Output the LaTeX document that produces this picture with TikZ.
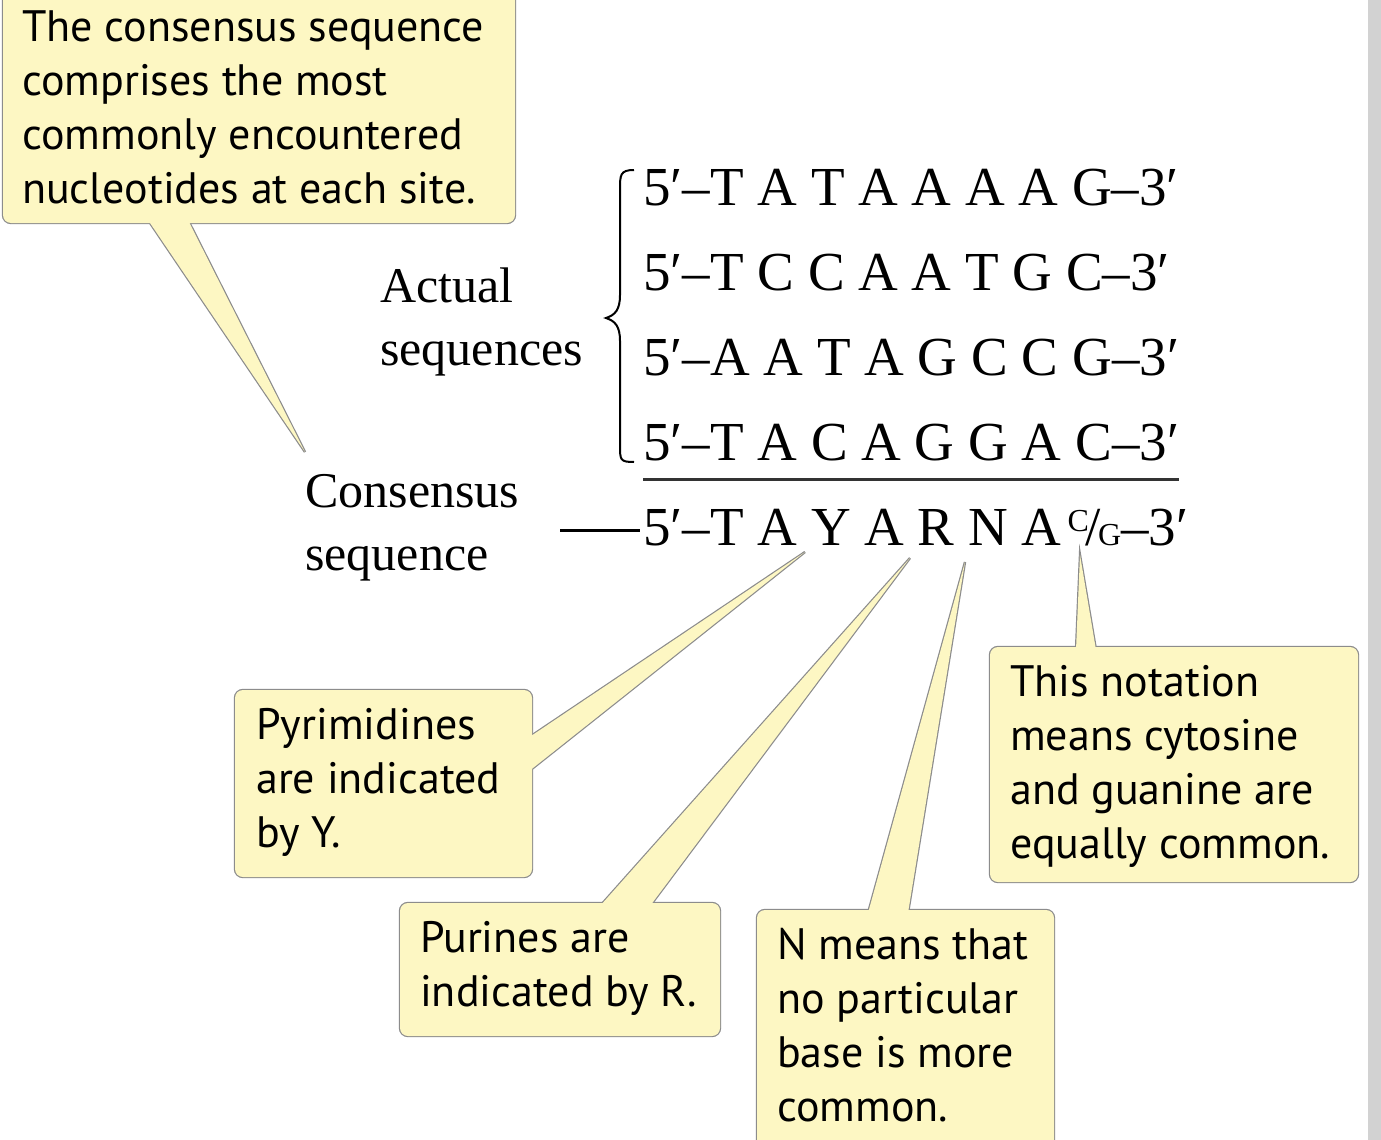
\documentclass[tikz,border=0pt]{standalone}
\usepackage{fontspec}
\setmainfont{Liberation Serif}
\newfontfamily\calfont{PT Sans}
\begin{document}
\begin{tikzpicture}[x=1pt,y=-1pt,
  calltext/.style={anchor=north west,inner sep=0pt,font=\calfont\fontsize{44}{54}\selectfont,align=left},
  seqtext/.style={anchor=base west,inner sep=0pt,font=\fontsize{55}{60}\selectfont},
  labtext/.style={anchor=north west,inner sep=0pt,font=\fontsize{50}{63}\selectfont,align=left}]
\definecolor{cfill}{HTML}{FDF7C3}
\definecolor{cline}{HTML}{8C8C8C}
\useasboundingbox (0,0) rectangle (1381,1140);
\fill[white] (0,0) rectangle (1381,1140);
\fill[gray!35] (1368,0) rectangle (1381,1140);
\foreach \mode in {1,2}{
  \ifnum\mode=1 \tikzset{cs/.style={draw=cline,line width=2.4pt,fill=cfill,rounded corners=8pt}}
  \else \tikzset{cs/.style={fill=cfill,rounded corners=8pt}} \fi
  \path[cs] (3,-10) rectangle (515,223);
  \path[cs,rounded corners=0pt] (148,220) -- (305,452) -- (188,220) -- cycle;
  \path[cs] (235,690) rectangle (532,877);
  \path[cs,rounded corners=0pt] (528,738) -- (805,552) -- (528,772) -- cycle;
  \path[cs] (400,903) rectangle (720,1036);
  \path[cs,rounded corners=0pt] (600,906) -- (910,558) -- (650,906) -- cycle;
  \path[cs] (757,910) rectangle (1054,1160);
  \path[cs,rounded corners=0pt] (868,913) -- (965,562) -- (908,913) -- cycle;
  \path[cs] (990,647) rectangle (1358,882);
  \path[cs,rounded corners=0pt] (1076,650) -- (1080,555) -- (1096,650) -- cycle;
}
\node[calltext] (c1) at (22,10) {The consensus sequence\\comprises the most\\commonly encountered\\nucleotides at each site.};
\node[calltext] (c2) at (256,708) {Pyrimidines\\are indicated\\by Y.};
\node[calltext] (c3) at (420,921) {Purines are\\indicated by R.};
\node[calltext] (c4) at (777,928) {N means that\\no particular\\base is more\\common.};
\node[calltext] (c5) at (1010,665) {This notation\\means cytosine\\and guanine are\\equally common.};
% labels
\node[labtext] (act) at (380,268) {Actual\\sequences};
\node[labtext] (cons) at (305,474) {Consensus\\sequence};
% brace
\draw[line width=2pt] (634,170) .. controls (620,170) and (620,175) .. (620,190) -- (620,295) .. controls (620,310) and (615,315) .. (606,318)
  .. controls (615,321) and (620,326) .. (620,341) -- (620,445) .. controls (620,460) and (620,462) .. (634,462);
% sequences
\node[seqtext] (s1) at (643,205) {5′–T A T A A A A G–3′};
\node[seqtext] (s2) at (643,290) {5′–T C C A A T G C–3′};
\node[seqtext] (s3) at (643,375) {5′–A A T A G C C G–3′};
\node[seqtext] (s4) at (643,460) {5′–T A C A G G A C–3′};
\coordinate (l1) at (643,479); \coordinate (l2) at (1179,479);
\draw[line width=3pt,black!80] (l1) -- (l2);
\node[seqtext] (s5) at (643,545) {5′–T A Y A R N A\kern6pt{\fontsize{32}{32}\selectfont\raisebox{14pt}{C}}\kern-3pt/\kern-3pt{\fontsize{32}{32}\selectfont G}–3′};
\coordinate (d1) at (560,530); \coordinate (d2) at (640,530);
\draw[line width=3pt] (d1) -- (d2);
\end{tikzpicture}
\end{document}
